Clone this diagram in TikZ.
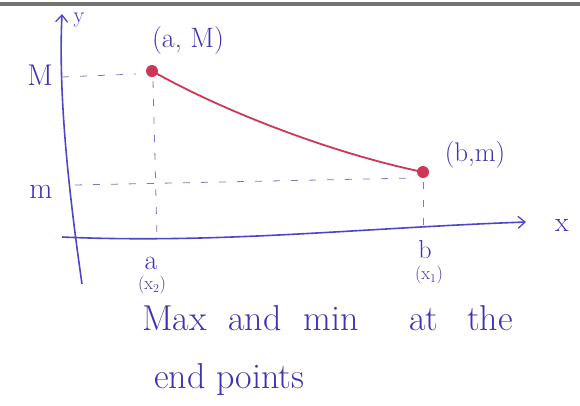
\documentclass[tikz,border=0pt]{standalone}
\usepackage{tikz}
\usetikzlibrary{arrows.meta,positioning,calc}
\definecolor{inkblue}{RGB}{62,52,178}
\definecolor{axisblue}{RGB}{78,70,200}
\definecolor{dashblue}{RGB}{120,120,205}
\definecolor{dotred}{RGB}{205,55,85}
\definecolor{scangray}{RGB}{115,115,115}

\begin{document}
\begin{tikzpicture}[x=1pt,y=-1pt,
    ink/.style={text=inkblue,inner sep=0pt},
    axisline/.style={axisblue,line width=1.6pt,-{Straight Barb[length=7pt,width=12pt,line width=1.3pt]}},
    guide/.style={dashblue,line width=0.8pt,dash pattern=on 7pt off 11pt},
    dot/.style={circle,fill=dotred,inner sep=0pt,minimum size=12pt}]
  \useasboundingbox (0,0) rectangle (580,405);
  \draw[scangray,line width=3.5pt] (0,4) -- (580,4);
  % axes
  \coordinate (yfoot) at (82,284);
  \coordinate (ytip) at (62,14);
  \coordinate (xfoot) at (62,237);
  \coordinate (xtip) at (526,222);
  \draw[axisline] (yfoot) .. controls (70,200) and (58,100) .. (ytip);
  \draw[axisline] (xfoot) .. controls (220,244) and (360,228) .. (xtip);
  \node[ink,font=\fontsize{22}{22}\selectfont] (ylab) at (79,20) {y};
  \node[ink,font=\fontsize{28}{28}\selectfont] (xlab) at (562,225) {x};
  % end points and curve
  \node[dot] (aM) at (152,71) {};
  \node[dot] (bm) at (423,172) {};
  \draw[dotred,line width=1.8pt] (aM.center) .. controls (230,115) and (340,155) .. (bm.center);
  \node[ink,font=\fontsize{28}{28}\selectfont] (aMlab) at (188,41) {(a, M)};
  \node[ink,font=\fontsize{27}{27}\selectfont] (bmlab) at (475,155) {(b,m)};
  % guides to the axes
  \coordinate (Mfoot) at (62,77);
  \coordinate (mfoot) at (75,185);
  \coordinate (afoot) at (157,238);
  \coordinate (bfoot) at (423,226);
  \draw[guide] (Mfoot) -- ($(aM)+(-16,3)$);
  \draw[guide] (mfoot) -- ($(bm)+(-8,6)$);
  \draw[guide] ($(aM)+(1,10)$) -- (afoot);
  \draw[guide] ($(bm)+(0,10)$) -- (bfoot);
  \node[ink,font=\fontsize{30}{30}\selectfont] (Mlab) at (40,75) {M};
  \node[ink,font=\fontsize{30}{30}\selectfont] (mlab) at (41,192) {m};
  \node[ink,font=\fontsize{28}{28}\selectfont] (alab) at (151,263) {a};
  \node[ink,font=\fontsize{18}{18}\selectfont] (x2lab) at (152,285) {(x$_2$)};
  \node[ink,font=\fontsize{26}{26}\selectfont] (blab) at (425,250) {b};
  \node[ink,font=\fontsize{18}{18}\selectfont] (x1lab) at (429,275) {(x$_1$)};
  % caption
  \node[ink,font=\fontsize{36}{36}\selectfont,anchor=west] (cap1) at (142,318)
    {Max\hspace{0.3em} and\hspace{0.3em} min\hspace{1.1em} at\hspace{0.5em} the};
  \node[ink,font=\fontsize{36}{36}\selectfont,anchor=west] (cap2) at (154,380) {end points};
\end{tikzpicture}
\end{document}
